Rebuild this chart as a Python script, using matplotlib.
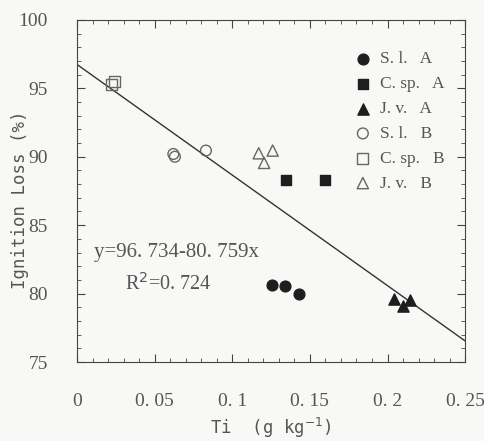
import matplotlib.pyplot as plt
import numpy as np

# Ti content (g/kg) and ignition loss (%) for each group
sl_a_x = [0.1256, 0.134, 0.143]
sl_a_y = [80.65, 80.55, 80.0]
csp_a_x = [0.1346, 0.160]
csp_a_y = [88.3, 88.3]
jv_a_x = [0.2045, 0.210, 0.2147]
jv_a_y = [79.6, 79.1, 79.5]
sl_b_x = [0.062, 0.063, 0.083]
sl_b_y = [90.2, 90.0, 90.45]
csp_b_x = [0.022, 0.024]
csp_b_y = [95.25, 95.5]
jv_b_x = [0.117, 0.1205, 0.126]
jv_b_y = [90.25, 89.55, 90.45]

intercept = 96.734
slope = -80.759
r2 = 0.724

xticks = [0, 0.05, 0.1, 0.15, 0.2, 0.25]
xticklabels = ['0', '0. 05', '0. 1', '0. 15', '0. 2', '0. 25']
yticks = [75, 80, 85, 90, 95, 100]

plt.rcParams['font.family'] = ['Liberation Serif', 'DejaVu Serif']
txt = '#555555'
dark = '#1e1e1e'

fig = plt.figure(figsize=(4.85, 4.41), dpi=100, facecolor='#f8f8f6')
ax = fig.add_axes([0.159, 0.179, 0.800, 0.776], facecolor='#f8f8f6')

ax.scatter(sl_a_x, sl_a_y, marker='o', s=60, color=dark, label='S. l.   A', zorder=3)
ax.scatter(csp_a_x, csp_a_y, marker='s', s=60, color=dark, label='C. sp.   A', zorder=3)
ax.scatter(jv_a_x, jv_a_y, marker='^', s=65, color=dark, label='J. v.   A', zorder=3)
ax.scatter(sl_b_x, sl_b_y, marker='o', s=60, facecolor='none', edgecolor='#666666', label='S. l.   B', zorder=3)
ax.scatter(csp_b_x, csp_b_y, marker='s', s=60, facecolor='none', edgecolor='#666666', label='C. sp.   B', zorder=3)
ax.scatter(jv_b_x, jv_b_y, marker='^', s=65, facecolor='none', edgecolor='#666666', label='J. v.   B', zorder=3)

# fitted line
xx = np.array([0, 0.25])
ax.plot(xx, intercept + slope * xx, color='#333333', lw=1.0, zorder=2)

ax.text(0.011, 83.0, 'y=96. 734-80. 759x', fontsize=15, color=txt, va='center')
ax.text(0.031, 80.7, 'R$^2$=0. 724', fontsize=14.5, color=txt, va='center')

ax.set_xlim(0, 0.25)
ax.set_ylim(75, 100)
ax.set_xticks(xticks)
ax.set_xticklabels(xticklabels)
ax.set_yticks(yticks)
ax.set_xticks(np.arange(0, 0.2501, 0.01), minor=True)
ax.set_yticks(np.arange(75, 100.1, 1), minor=True)
ax.tick_params(which='both', direction='in', top=True, right=True, colors='#444444',
               labelcolor=txt, labelsize=14)
ax.tick_params(which='major', length=6)
ax.tick_params(axis='x', which='major', pad=22)
ax.tick_params(axis='y', which='major', pad=21)
ax.tick_params(which='minor', length=3)
for sp in ax.spines.values():
    sp.set_color('#444444')

ax.set_xlabel('Ti  (g kg$^{-1}$)', fontsize=12.5, color=txt, family='DejaVu Sans Mono', va='center')
ax.set_ylabel('Ignition Loss (%)', fontsize=12.5, color=txt, family='DejaVu Sans Mono', va='center')
ax.xaxis.set_label_coords(0.5, -0.193)
ax.yaxis.set_label_coords(-0.147, 0.474)

leg = ax.legend(loc='upper left', frameon=False, fontsize=12.5, labelcolor=txt,
                handlelength=1.0, handletextpad=0.5, labelspacing=0.5,
                borderpad=0, borderaxespad=0, bbox_to_anchor=(0.714, 0.908))

fig.savefig('out.png', dpi=100, facecolor=fig.get_facecolor())
